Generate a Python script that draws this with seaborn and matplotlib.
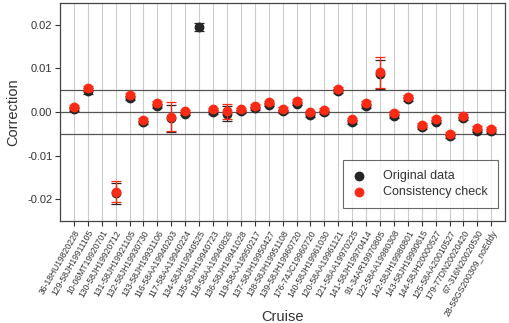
import numpy as np
import pandas as pd
import matplotlib
matplotlib.use('Agg')
import matplotlib.pyplot as plt
import seaborn as sns

cruises = [
    '36-18HU19820228', '129-58JH19911105', '10-06MT19920701', '130-58JH19920712',
    '131-58JH19921105', '132-58JH19930730', '133-58JH19931106', '116-58AA19940203',
    '117-58AA19940224', '134-58JH19940525', '135-58JH19940723', '118-58AA19940826',
    '136-58JH19941028', '119-58AA19950217', '137-58JH19950427', '138-58JH19951108',
    '139-58JH19960720', '176-74JC19960720', '140-58JH19961030', '120-58AA19961121',
    '121-58AA19970225', '141-58JH19970414', '91-34AR19970805', '122-58AA19980308',
    '142-58JH19980801', '143-58JH19990615', '144-58JH20000527', '125-58AA20010527',
    '179-77DN20020420', '67-316N20020530', '28-58GS200309_noEddy',
]

orig_val = [0.0007, 0.0048, np.nan, -0.0187, 0.0032, -0.0024, 0.0014, -0.0015,
            -0.0004, 0.0195, 0.0000, -0.0004, 0.0001, 0.0008, 0.0017, 0.0001,
            0.0019, -0.0007, -0.0001, 0.0048, -0.0023, 0.0014, 0.0086, -0.0009,
            0.0030, -0.0035, -0.0022, -0.0056, -0.0015, -0.0043, -0.0044]
orig_err = [0.0004, 0.0006, np.nan, 0.0025, 0.0004, 0.0004, 0.0004, 0.0032,
            0.0004, 0.0009, 0.0004, 0.0017, 0.0004, 0.0004, 0.0004, 0.0004,
            0.0004, 0.0004, 0.0004, 0.0004, 0.0004, 0.0004, 0.0034, 0.0004,
            0.0004, 0.0004, 0.0004, 0.0004, 0.0004, 0.0004, 0.0004]

check_val = [0.0012, 0.0054, np.nan, -0.0183, 0.0039, -0.0018, 0.0020, -0.0011,
             0.0001, np.nan, 0.0006, 0.0001, 0.0006, 0.0014, 0.0022, 0.0007,
             0.0025, -0.0001, 0.0005, 0.0053, -0.0017, 0.0020, 0.0091, -0.0003,
             0.0035, -0.0030, -0.0016, -0.0050, -0.0009, -0.0037, -0.0039]
check_err = [0.0004, 0.0006, np.nan, 0.0024, 0.0004, 0.0004, 0.0004, 0.0033,
             0.0004, np.nan, 0.0004, 0.0017, 0.0004, 0.0004, 0.0004, 0.0004,
             0.0004, 0.0004, 0.0004, 0.0004, 0.0004, 0.0004, 0.0035, 0.0004,
             0.0004, 0.0004, 0.0004, 0.0004, 0.0004, 0.0004, 0.0004]

ref_lines = [-0.005, 0.0, 0.005]

sns.set_theme(style='ticks')
plt.rcParams['font.family'] = ['Liberation Sans', 'DejaVu Sans']

pos = np.arange(1, len(cruises) + 1)
df = pd.DataFrame({'pos': pos, 'cruise': cruises,
                   'orig': orig_val, 'orig_err': orig_err,
                   'check': check_val, 'check_err': check_err})

BLACK = '#262626'
RED = '#fa2a14'

fig = plt.figure(figsize=(5.1, 3.23), dpi=100)
ax = fig.add_axes([0.1176, 0.316, 0.873, 0.675])

for p in pos:
    ax.axvline(p, color='#cccccc', lw=0.8, zorder=0)
for y in ref_lines:
    ax.axhline(y, color='#555555', lw=0.9, zorder=1)

ax.errorbar(df['pos'], df['orig'], yerr=df['orig_err'], fmt='none',
            ecolor=BLACK, elinewidth=0.9, capsize=3.6, capthick=0.9, zorder=2)
sns.scatterplot(data=df, x='pos', y='orig', color=BLACK, s=50, linewidth=0,
                label='Original data', ax=ax, zorder=3)
ax.errorbar(df['pos'], df['check'], yerr=df['check_err'], fmt='none',
            ecolor=RED, elinewidth=0.9, capsize=3.6, capthick=0.9, zorder=4)
sns.scatterplot(data=df, x='pos', y='check', color=RED, s=50, linewidth=0,
                label='Consistency check', ax=ax, zorder=5)

ax.set_xlim(0, 32)
ax.set_ylim(-0.025, 0.025)
ax.set_yticks([-0.02, -0.01, 0.0, 0.01, 0.02])
ax.set_yticklabels(['-0.02', '-0.01', '0.00', '0.01', '0.02'], fontsize=8)
ax.set_xticks(pos)
ax.set_xticklabels(cruises, rotation=60, ha='right', rotation_mode='anchor',
                   fontsize=6.2)
ax.tick_params(axis='both', direction='out', length=3.5, width=0.8,
               colors='#333333', labelcolor='#333333', pad=2)
for s in ax.spines.values():
    s.set_color('#444444')
    s.set_linewidth(0.9)

ax.set_xlabel('Cruise', fontsize=10.5, color='#333333')
ax.set_ylabel('Correction', fontsize=10.5, color='#333333', labelpad=5)
ax.xaxis.set_label_coords(0.5, -0.41)

leg = ax.legend(loc='lower right', bbox_to_anchor=(0.992, 0.04), fontsize=9,
                frameon=True, fancybox=False, borderpad=0.8, handlelength=1.0,
                handletextpad=1.4, labelspacing=0.35, borderaxespad=0.3)
leg.get_frame().set_edgecolor('#444444')
leg.get_frame().set_linewidth(0.8)
for t in leg.get_texts():
    t.set_color('#333333')

fig.savefig('out.png', dpi=100)
